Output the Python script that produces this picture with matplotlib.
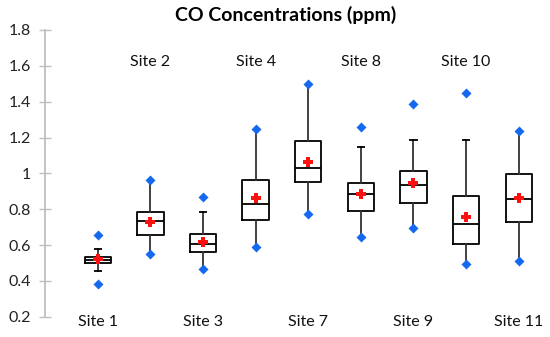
import matplotlib
matplotlib.use("Agg")
import matplotlib.pyplot as plt

plt.rcParams['font.family'] = ['Lato', 'DejaVu Sans']

sites = ["Site 1", "Site 2", "Site 3", "Site 4", "Site 7", "Site 8", "Site 9", "Site 10", "Site 11"]
mins = [0.383, 0.550, 0.467, 0.587, 0.772, 0.644, 0.694, 0.494, 0.509]
whislo = [0.454, 0.550, 0.467, 0.587, 0.772, 0.644, 0.694, 0.494, 0.509]
q1 = [0.500, 0.657, 0.559, 0.741, 0.954, 0.789, 0.835, 0.607, 0.729]
med = [0.518, 0.732, 0.604, 0.828, 1.032, 0.885, 0.933, 0.715, 0.856]
q3 = [0.535, 0.782, 0.663, 0.961, 1.182, 0.944, 1.013, 0.874, 0.994]
whishi = [0.578, 0.961, 0.787, 1.250, 1.500, 1.146, 1.187, 1.187, 1.235]
maxs = [0.656, 0.961, 0.869, 1.250, 1.500, 1.259, 1.389, 1.450, 1.235]
means = [0.520, 0.730, 0.618, 0.861, 1.063, 0.884, 0.944, 0.757, 0.861]
yticks = [0.2, 0.4, 0.6, 0.8, 1.0, 1.2, 1.4, 1.6, 1.8]
ytick_labels = ["0.2", "0.4", "0.6", "0.8", "1", "1.2", "1.4", "1.6", "1.8"]

fig = plt.figure(figsize=(5.5, 3.37), dpi=100)
ax = fig.add_axes([0.082, 0.0603, 0.909, 0.8507])

positions = list(range(1, len(sites) + 1))
stats = []
for i in range(len(sites)):
    stats.append(dict(med=med[i], q1=q1[i], q3=q3[i], whislo=whislo[i], whishi=whishi[i], fliers=[]))

ax.bxp(stats, positions=positions, widths=0.5, showcaps=False, showfliers=False,
       boxprops=dict(color='black', linewidth=1.3),
       medianprops=dict(color='black', linewidth=1.3),
       whiskerprops=dict(color='#333333', linewidth=1.3))

# caps only where whisker does not reach the min/max
for i, p in enumerate(positions):
    if whislo[i] > mins[i] + 1e-9:
        ax.hlines(whislo[i], p - 0.08, p + 0.08, color='black', linewidth=1.3)
    if whishi[i] < maxs[i] - 1e-9:
        ax.hlines(whishi[i], p - 0.08, p + 0.08, color='black', linewidth=1.3)

ax.scatter(positions, mins, marker='D', s=26, color='#1469EE', zorder=5, linewidths=0)
ax.scatter(positions, maxs, marker='D', s=26, color='#1469EE', zorder=5, linewidths=0)
ax.scatter(positions, means, marker='P', s=50, color='#FF1010', zorder=6, linewidths=0)

ax.set_xlim(0, 9.5)
ax.set_ylim(0.2, 1.8)
ax.set_yticks(yticks)
ax.set_yticklabels(ytick_labels, fontsize=11.5, color='#222222')
ax.set_xticks([])
for s in ['top', 'right', 'bottom']:
    ax.spines[s].set_visible(False)
ax.spines['left'].set_color('#BFBFBF')
ax.spines['left'].set_linewidth(1.3)
ax.tick_params(axis='y', direction='inout', length=8, width=1.0, color='#BFBFBF', pad=6)

for i, (p, s) in enumerate(zip(positions, sites)):
    y = 0.172 if i % 2 == 0 else 1.622
    ax.text(p, y, s, ha='center', va='center', fontsize=11.5, color='#111111', clip_on=False)

fig.text(0.52, 0.955, "CO Concentrations (ppm)", ha='center', va='center', fontsize=14, fontweight='bold')

fig.savefig("out.png", dpi=100)
